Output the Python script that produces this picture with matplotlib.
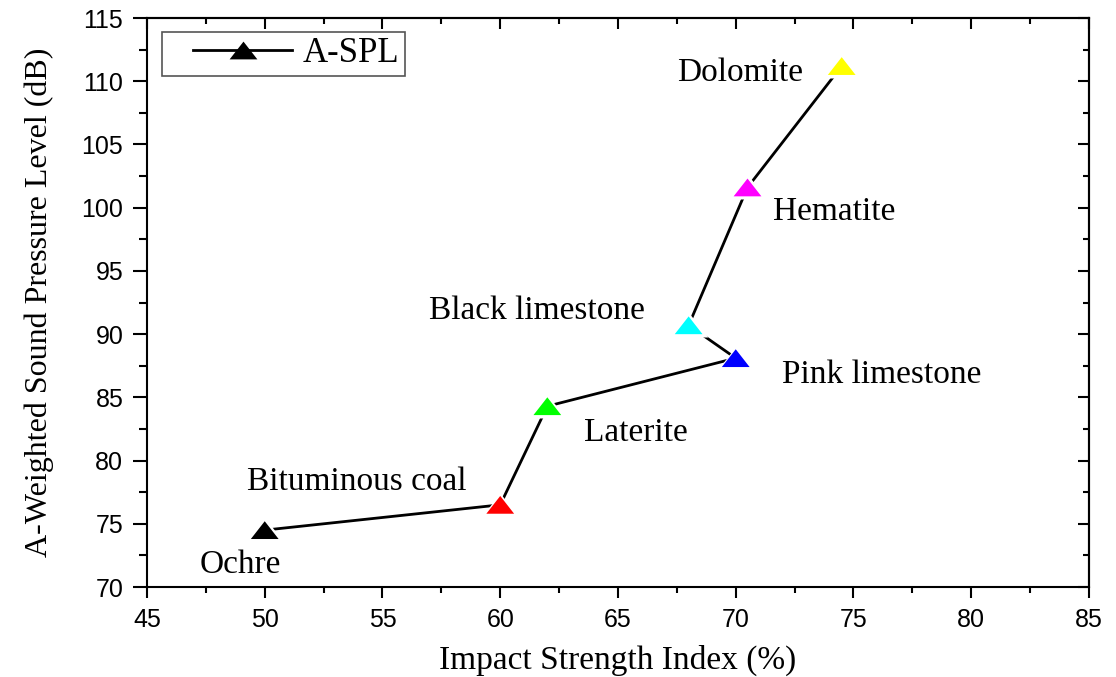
import matplotlib
matplotlib.use('Agg')
import matplotlib.pyplot as plt
from matplotlib.legend_handler import HandlerLine2D
from matplotlib.lines import Line2D
import numpy as np

# data
rocks = ['Ochre', 'Bituminous coal', 'Laterite', 'Pink limestone',
         'Black limestone', 'Hematite', 'Dolomite']
impact = [50.0, 60.0, 62.0, 70.0, 68.0, 70.5, 74.5]
spl = [74.5, 76.5, 84.3, 88.1, 90.7, 101.6, 111.2]
colors = ['black', 'red', '#00ff00', 'blue', 'cyan', 'magenta', 'yellow']
# label centres (x, y) in data units
label_x = [48.95, 53.9, 65.76, 76.19, 61.54, 74.2, 70.18]
label_y = [71.74, 78.3, 82.2, 86.77, 91.83, 99.66, 110.65]

serif = 'Liberation Serif'
sans = 'Liberation Sans'

# flattened triangle like the Origin marker
tri = [(-1, -0.64), (1, -0.64), (0, 0.64), (-1, -0.64)]


class PadHandler(HandlerLine2D):
    # leave some blank space before the legend line
    def get_xdata(self, legend, xdescent, ydescent, width, height, fontsize):
        lead = 0.75 * fontsize
        return ([-xdescent + lead, -xdescent + width],
                [-xdescent + lead + 0.5 * (width - lead)])


fig = plt.figure(figsize=(11.16, 6.77), dpi=100)
ax = fig.add_axes([0.1317, 0.1329, 0.9758 - 0.1317, 0.9734 - 0.1329])

ax.plot(impact, spl, color='black', lw=2, zorder=2)
ax.scatter(impact, spl, s=27 ** 2, marker=tri, c='white', zorder=3, linewidths=0)
ax.scatter(impact, spl, s=20 ** 2, marker=tri, c=colors, zorder=4, linewidths=0)

for name, lx, ly in zip(rocks, label_x, label_y):
    ax.text(lx, ly, name, ha='center', va='center', fontsize=24, family=serif)

ax.set_xlim(45, 85)
ax.set_ylim(70, 115)
ax.set_xticks(np.arange(45, 86, 5))
ax.set_yticks(np.arange(70, 116, 5))
ax.set_xticks(np.arange(47.5, 85, 5), minor=True)
ax.set_yticks(np.arange(72.5, 115, 5), minor=True)

for sp in ax.spines.values():
    sp.set_linewidth(1.5)

ax.tick_params(which='major', direction='out', width=1.5, labelsize=18, pad=7)
ax.tick_params(axis='x', which='major', length=8)
ax.tick_params(axis='y', which='major', length=10)
ax.tick_params(axis='x', which='minor', direction='out', length=4.5, width=1.5)
ax.tick_params(axis='y', which='minor', direction='out', length=6, width=1.5)
for lab in ax.get_xticklabels() + ax.get_yticklabels():
    lab.set_family(sans)

# mirrored inward ticks on top and right
top = ax.secondary_xaxis('top')
top.set_xticks(np.arange(45, 86, 5))
top.set_xticks(np.arange(47.5, 85, 5), minor=True)
top.tick_params(which='major', direction='in', length=8, width=1.5, labeltop=False)
top.tick_params(which='minor', direction='in', length=4.5, width=1.5)
right = ax.secondary_yaxis('right')
right.set_yticks(np.arange(70, 116, 5))
right.set_yticks(np.arange(72.5, 115, 5), minor=True)
right.tick_params(which='major', direction='in', length=8, width=1.5, labelright=False)
right.tick_params(which='minor', direction='in', length=4.5, width=1.5)
top.spines['top'].set_linewidth(1.5)
right.spines['right'].set_linewidth(1.5)

ax.set_xlabel('Impact Strength Index (%)', family=serif, fontsize=24, labelpad=9)
ax.set_ylabel('A-Weighted Sound Pressure Level (dB)', family=serif, fontsize=23,
              labelpad=20)

handle = Line2D([], [], color='black', lw=2, marker=tri, markersize=20,
                markerfacecolor='black', markeredgewidth=0)
leg = ax.legend([handle], ['A-SPL'], loc='upper left',
                bbox_to_anchor=(0.016, 0.975), borderaxespad=0,
                handlelength=3.6, handletextpad=0.3, borderpad=0.15,
                fancybox=False, framealpha=1, edgecolor='#555555',
                prop={'family': serif, 'size': 25},
                handler_map={handle: PadHandler(numpoints=1)})
leg.get_frame().set_linewidth(1.2)

fig.savefig('out.png', dpi=100)
